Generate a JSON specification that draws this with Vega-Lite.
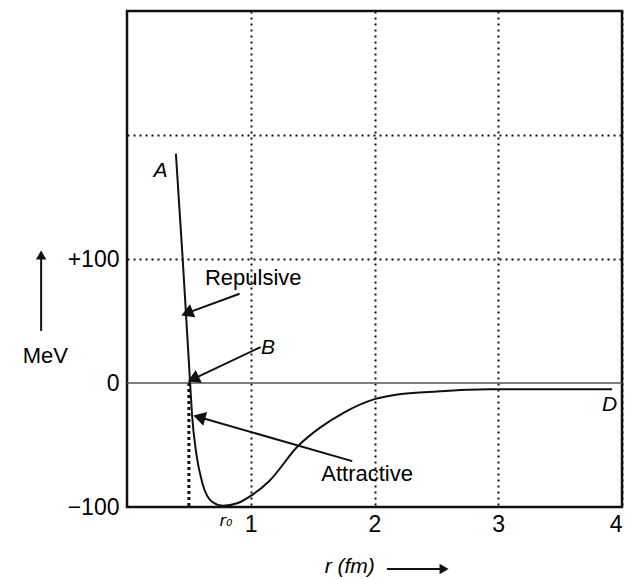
{
  "$schema": "https://vega.github.io/schema/vega-lite/v6.json",
  "width": 495,
  "height": 496,
  "autosize": {"type": "none"},
  "padding": {"left": 127, "top": 11, "right": 13, "bottom": 72},
  "background": "white",
  "config": {
    "view": {"stroke": "#111", "strokeWidth": 2.5},
    "font": "Liberation Sans"
  },
  "datasets": {
    "curve": [
      {"r": 0.395, "v": 185},
      {"r": 0.45, "v": 100},
      {"r": 0.51, "v": 0},
      {"r": 0.525, "v": -25},
      {"r": 0.56, "v": -57},
      {"r": 0.61, "v": -81},
      {"r": 0.69, "v": -96},
      {"r": 0.775, "v": -99},
      {"r": 0.89, "v": -97},
      {"r": 1.0, "v": -91},
      {"r": 1.15, "v": -79},
      {"r": 1.38, "v": -51},
      {"r": 1.56, "v": -36},
      {"r": 1.75, "v": -24},
      {"r": 2.0, "v": -13},
      {"r": 2.2, "v": -9},
      {"r": 2.47, "v": -7},
      {"r": 2.93, "v": -5},
      {"r": 3.92, "v": -5}
    ],
    "arrows": [
      {"name": "repulsive", "r": 0.91, "v": 72, "r2": 0.5, "v2": 57},
      {"name": "b", "r": 1.08, "v": 29, "r2": 0.55, "v2": 4},
      {"name": "attractive", "r": 1.82, "v": -63, "r2": 0.6, "v2": -28},
      {"name": "up", "r": -0.694, "v": 42, "r2": -0.694, "v2": 102},
      {"name": "right", "r": 2.1, "v": -150, "r2": 2.55, "v2": -150}
    ],
    "labels": [
      {"kind": "normal", "r": 1.02, "v": 85, "text": "Repulsive"},
      {"kind": "normal", "r": 1.94, "v": -73, "text": "Attractive"},
      {"kind": "normal", "r": -0.66, "v": 22, "text": "MeV"},
      {"kind": "italic", "r": 0.27, "v": 171, "text": "A"},
      {"kind": "italic", "r": 1.14, "v": 28, "text": "B"},
      {"kind": "italic", "r": 3.9, "v": -18, "text": "D"},
      {"kind": "italic", "r": 1.8, "v": -148, "text": "r (fm)"}
    ],
    "r0": [
      {"r": 0.8, "v": -111, "text": "r₀"}
    ],
    "zero": [{"v": 0}],
    "vline": [{"r": 0.5, "v": 0, "v2": -100}]
  },
  "layer": [
    {
      "data": {"name": "zero"},
      "mark": {"type": "rule", "color": "#555", "strokeWidth": 1.5},
      "encoding": {
        "y": {"field": "v", "type": "quantitative", "scale": {"domain": [-100, 300], "nice": false}, "axis": {
          "values": [-100, 0, 100, 200],
          "labelExpr": "datum.value == 100 ? '+100' : datum.value == -100 ? '−100' : datum.value == 0 ? '0' : ''",
          "grid": true,
          "gridDash": [2, 4],
          "gridColor": "#111",
          "gridWidth": 2,
          "gridOpacity": {"condition": {"test": "datum.value == 0 || datum.value == -100", "value": 0}, "value": 1},
          "domain": false,
          "ticks": false,
          "labelFontSize": 23,
          "labelPadding": 8,
          "labelColor": "#000",
          "labelFont": "Liberation Sans",
          "title": null
        }}
      }
    },
    {
      "data": {"name": "curve"},
      "mark": {"type": "line", "interpolate": "monotone", "color": "#111", "strokeWidth": 2},
      "encoding": {
        "x": {"field": "r", "type": "quantitative", "scale": {"domain": [0, 4], "nice": false, "zero": false}, "axis": {
          "values": [1, 2, 3, 4],
          "format": "d",
          "grid": true,
          "gridDash": [2, 4],
          "gridColor": "#111",
          "gridWidth": 2,
          "domain": false,
          "ticks": false,
          "labelFontSize": 23,
          "labelPadding": 6,
          "labelColor": "#000",
          "labelFont": "Liberation Sans",
          "title": null
        }},
        "y": {"field": "v", "type": "quantitative"}
      }
    },
    {
      "data": {"name": "vline"},
      "mark": {"type": "rule", "color": "#111", "strokeWidth": 3, "strokeDash": [3, 3]},
      "encoding": {
        "x": {"field": "r", "type": "quantitative"},
        "y": {"field": "v", "type": "quantitative"},
        "y2": {"field": "v2"}
      }
    },
    {
      "data": {"name": "arrows"},
      "mark": {"type": "rule", "color": "#111", "strokeWidth": 2, "clip": false},
      "encoding": {
        "x": {"field": "r", "type": "quantitative"},
        "y": {"field": "v", "type": "quantitative"},
        "x2": {"field": "r2"},
        "y2": {"field": "v2"}
      }
    },
    {
      "data": {"name": "arrows"},
      "transform": [{"filter": "datum.name == 'repulsive'"}],
      "mark": {"type": "point", "shape": "triangle", "filled": true, "color": "#111", "opacity": 1, "size": 200, "angle": 248},
      "encoding": {"x": {"field": "r2", "type": "quantitative"}, "y": {"field": "v2", "type": "quantitative"}}
    },
    {
      "data": {"name": "arrows"},
      "transform": [{"filter": "datum.name == 'b'"}],
      "mark": {"type": "point", "shape": "triangle", "filled": true, "color": "#111", "opacity": 1, "size": 200, "angle": 245},
      "encoding": {"x": {"field": "r2", "type": "quantitative"}, "y": {"field": "v2", "type": "quantitative"}}
    },
    {
      "data": {"name": "arrows"},
      "transform": [{"filter": "datum.name == 'attractive'"}],
      "mark": {"type": "point", "shape": "triangle", "filled": true, "color": "#111", "opacity": 1, "size": 200, "angle": 286},
      "encoding": {"x": {"field": "r2", "type": "quantitative"}, "y": {"field": "v2", "type": "quantitative"}}
    },
    {
      "data": {"name": "arrows"},
      "transform": [{"filter": "datum.name == 'up'"}],
      "mark": {"type": "point", "shape": "triangle", "filled": true, "color": "#111", "opacity": 1, "size": 110, "angle": 0, "clip": false},
      "encoding": {"x": {"field": "r2", "type": "quantitative"}, "y": {"field": "v2", "type": "quantitative"}}
    },
    {
      "data": {"name": "arrows"},
      "transform": [{"filter": "datum.name == 'right'"}],
      "mark": {"type": "point", "shape": "triangle", "filled": true, "color": "#111", "opacity": 1, "size": 110, "angle": 90, "clip": false},
      "encoding": {"x": {"field": "r2", "type": "quantitative"}, "y": {"field": "v2", "type": "quantitative"}}
    },
    {
      "data": {"name": "labels"},
      "transform": [{"filter": "datum.kind == 'normal'"}],
      "mark": {"type": "text", "font": "Liberation Sans", "fontSize": 22, "color": "#000", "align": "center", "baseline": "middle"},
      "encoding": {
        "x": {"field": "r", "type": "quantitative"},
        "y": {"field": "v", "type": "quantitative"},
        "text": {"field": "text"}
      }
    },
    {
      "data": {"name": "labels"},
      "transform": [{"filter": "datum.kind == 'italic'"}],
      "mark": {"type": "text", "font": "Liberation Sans", "fontSize": 21, "fontStyle": "italic", "color": "#000", "align": "center", "baseline": "middle"},
      "encoding": {
        "x": {"field": "r", "type": "quantitative"},
        "y": {"field": "v", "type": "quantitative"},
        "text": {"field": "text"}
      }
    },
    {
      "data": {"name": "r0"},
      "mark": {"type": "text", "font": "DejaVu Sans", "fontSize": 16, "fontStyle": "italic", "color": "#000", "align": "center", "baseline": "middle"},
      "encoding": {
        "x": {"field": "r", "type": "quantitative"},
        "y": {"field": "v", "type": "quantitative"},
        "text": {"field": "text"}
      }
    }
  ]
}
